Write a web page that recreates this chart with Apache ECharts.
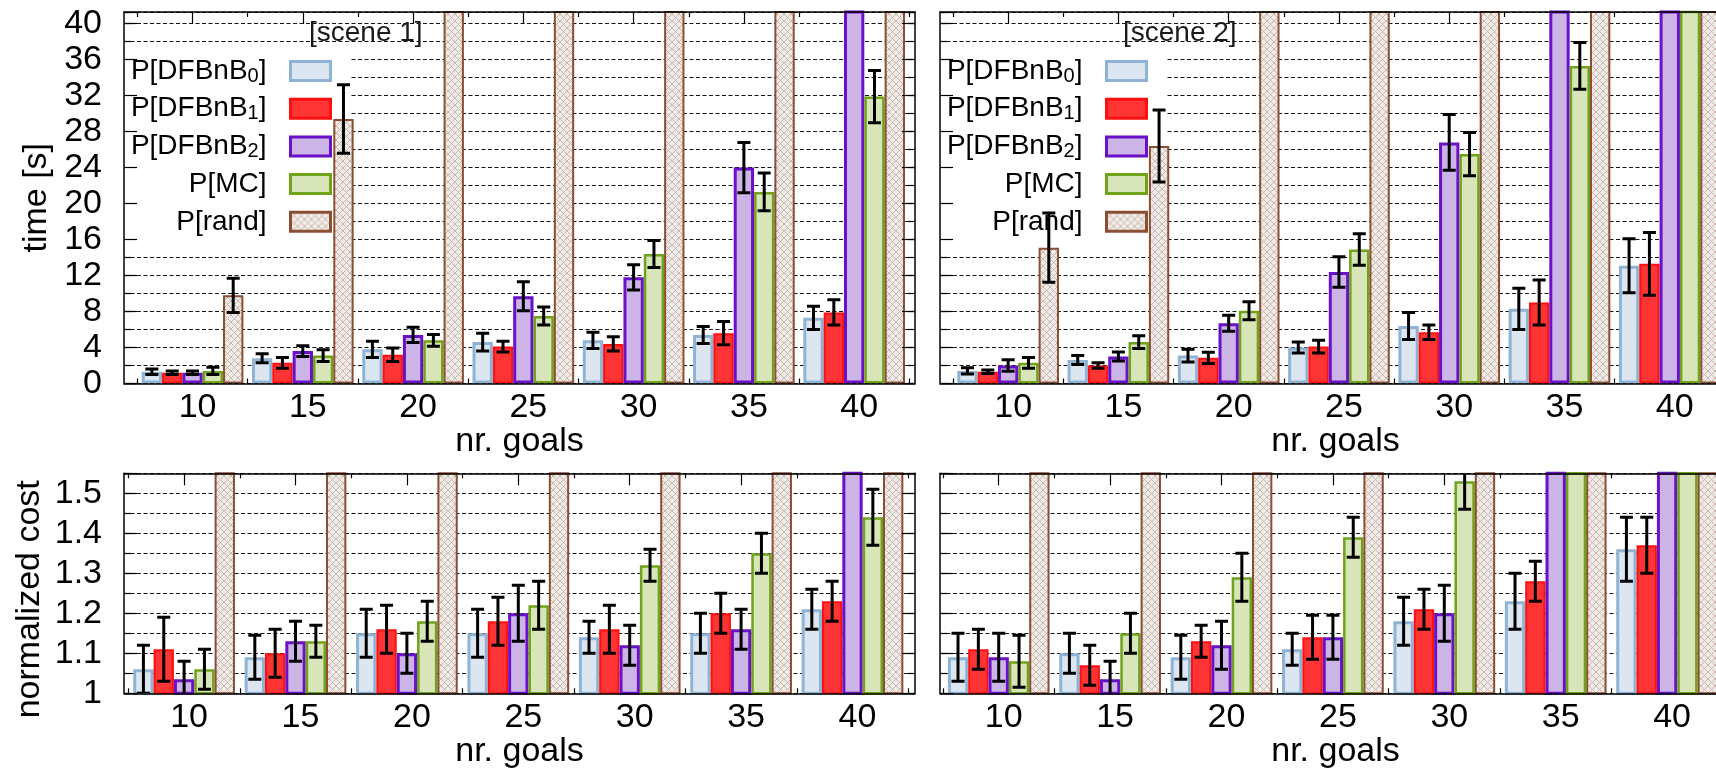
<!DOCTYPE html>
<html>
<head>
<meta charset="utf-8">
<script src="https://cdn.jsdelivr.net/npm/echarts@6.0.0/dist/echarts.min.js"></script>
<style>
  html, body { margin: 0; padding: 0; background: #fff; }
  #chart { width: 1716px; height: 775px; }
</style>
</head>
<body>
<div id="chart"></div>
<script>
// x categories and series names
const goals = ['10', '15', '20', '25', '30', '35', '40'];
const seriesNames = ['P[DFBnB0]', 'P[DFBnB1]', 'P[DFBnB2]', 'P[MC]', 'P[rand]'];

// rows: DFBnB0, DFBnB1, DFBnB2, MC, rand
// values above the axis max are bars that run off the top of the panel (no visible error bar)
const scene1Time = [
  [1.3, 2.8, 3.8, 4.6, 4.8, 5.4, 7.3],
  [1.2, 2.3, 3.2, 4.1, 4.4, 5.6, 7.9],
  [1.2, 3.6, 5.4, 9.7, 11.8, 24.0, 45],
  [1.4, 3.1, 4.8, 7.5, 14.4, 21.3, 31.9],
  [9.8, 29.4, 45, 45, 45, 45, 45]
];
const scene1TimeErr = [
  [0.3, 0.5, 0.9, 1.0, 0.9, 0.95, 1.3],
  [0.2, 0.6, 0.75, 0.6, 0.8, 1.3, 1.4],
  [0.2, 0.6, 0.85, 1.6, 1.4, 2.8, null],
  [0.4, 0.65, 0.65, 1.0, 1.5, 2.1, 2.9],
  [1.9, 3.8, null, null, null, null, null]
];
const scene2Time = [
  [1.4, 2.6, 3.1, 4.0, 6.4, 8.3, 13.1],
  [1.3, 2.0, 2.85, 4.1, 5.7, 9.0, 13.3],
  [2.0, 3.0, 6.7, 12.4, 26.8, 45, 45],
  [2.3, 4.6, 8.1, 14.9, 25.5, 35.3, 45],
  [15.1, 26.4, 45, 45, 45, 45, 45]
];
const scene2TimeErr = [
  [0.35, 0.5, 0.7, 0.6, 1.5, 2.3, 3.0],
  [0.2, 0.3, 0.63, 0.7, 0.8, 2.5, 3.5],
  [0.65, 0.5, 0.9, 1.7, 3.1, null, null],
  [0.6, 0.7, 1.0, 1.75, 2.4, 2.6, null],
  [3.85, 4.0, null, null, null, null, null]
];
const scene1Cost = [
  [1.06, 1.09, 1.15, 1.15, 1.14, 1.15, 1.21],
  [1.11, 1.10, 1.16, 1.18, 1.16, 1.20, 1.23],
  [1.035, 1.13, 1.10, 1.20, 1.12, 1.16, 1.6],
  [1.06, 1.13, 1.18, 1.22, 1.32, 1.35, 1.44],
  [1.6, 1.6, 1.6, 1.6, 1.6, 1.6, 1.6]
];
const scene1CostErr = [
  [0.06, 0.055, 0.06, 0.06, 0.04, 0.05, 0.05],
  [0.08, 0.06, 0.06, 0.06, 0.06, 0.05, 0.05],
  [0.045, 0.05, 0.05, 0.07, 0.05, 0.05, null],
  [0.05, 0.04, 0.05, 0.06, 0.04, 0.05, 0.07],
  [null, null, null, null, null, null, null]
];
const scene2Cost = [
  [1.09, 1.10, 1.09, 1.11, 1.18, 1.23, 1.36],
  [1.11, 1.07, 1.13, 1.14, 1.21, 1.28, 1.37],
  [1.09, 1.035, 1.12, 1.14, 1.20, 1.6, 1.6],
  [1.08, 1.15, 1.29, 1.39, 1.53, 1.6, 1.6],
  [1.6, 1.6, 1.6, 1.6, 1.6, 1.6, 1.6]
];
const scene2CostErr = [
  [0.06, 0.05, 0.055, 0.04, 0.06, 0.07, 0.08],
  [0.05, 0.05, 0.04, 0.055, 0.05, 0.05, 0.07],
  [0.06, 0.045, 0.06, 0.055, 0.07, null, null],
  [0.065, 0.05, 0.06, 0.05, 0.07, null, null],
  [null, null, null, null, null, null, null]
];

const font = "'Liberation Sans', Arial, sans-serif";

function hatch() {
  const c = document.createElement('canvas');
  c.width = 7; c.height = 7;
  const g = c.getContext('2d');
  g.fillStyle = '#f1ebe8';
  g.fillRect(0, 0, 7, 7);
  g.strokeStyle = '#c7b7af';
  g.lineWidth = 1;
  g.beginPath();
  g.moveTo(0, 0); g.lineTo(7, 7);
  g.moveTo(7, 0); g.lineTo(0, 7);
  g.stroke();
  return c;
}

const barStyles = [
  { color: '#dce6f0', borderColor: '#8fb3d5', borderWidth: 3 },
  { color: '#ff3535', borderColor: '#ff1010', borderWidth: 2 },
  { color: '#ccb4e6', borderColor: '#6a10c8', borderWidth: 3 },
  { color: '#d8e5b9', borderColor: '#70a21a', borderWidth: 2.5 },
  { color: { image: hatch(), repeat: 'repeat' }, borderColor: '#8a4e33', borderWidth: 2 }
];

const panels = [
  { values: scene1Time, errs: scene1TimeErr, left: 124, top: 12, height: 371.5, dataLeft: 137.4, pitch: 110.27, gap: 0.078,
    min: 0, max: 41.3, major: 4, minor: 2, yName: 'time [s]', nameGap: 70, namePad: [0, 0, 0, 0], labels: true },
  { values: scene2Time, errs: scene2TimeErr, left: 940, top: 12, height: 371.5, dataLeft: 953, pitch: 110.27, gap: 0.078,
    min: 0, max: 41.3, major: 4, minor: 2, yName: '', labels: false },
  { values: scene1Cost, errs: scene1CostErr, left: 124, top: 473.3, height: 220, dataLeft: 128.4, pitch: 111.4, gap: 0.087,
    min: 1, max: 1.55, major: 0.1, minor: 0.05, yName: 'normalized cost', nameGap: 77, namePad: [0, 32, 0, 0], labels: true },
  { values: scene2Cost, errs: scene2CostErr, left: 940, top: 473.3, height: 220, dataLeft: 943, pitch: 111.4, gap: 0.087,
    min: 1, max: 1.55, major: 0.1, minor: 0.05, yName: '', labels: false }
];

const frameW = 791;
const grid = [], xAxis = [], yAxis = [], series = [];
const black = '#000';

function majorLabel(p) {
  return function (v) {
    const k = v / p.major;
    if (Math.abs(k - Math.round(k)) > 1e-6) return '';
    return String(+v.toFixed(1));
  };
}

panels.forEach(function (p, i) {
  const fg = grid.length;
  grid.push({ left: p.left, top: p.top, width: frameW, height: p.height, outerBoundsMode: 'none', containLabel: false });
  const dg = grid.length;
  grid.push({ left: p.dataLeft, top: p.top, width: p.pitch * goals.length, height: p.height, outerBoundsMode: 'none', containLabel: false });

  // frame: bottom / top borders
  xAxis.push({
    type: 'value', gridIndex: fg, position: 'bottom', min: 0, max: 1, z: 5,
    axisLine: { show: true, onZero: false, lineStyle: { color: black, width: 1.5 } },
    axisTick: { show: false }, axisLabel: { show: false }, splitLine: { show: false },
    name: 'nr. goals', nameLocation: 'middle', nameGap: 41, nameMoveOverlap: false,
    nameTextStyle: { fontFamily: font, fontSize: 34, color: black }
  });
  xAxis.push({
    type: 'value', gridIndex: fg, position: 'top', min: 0, max: 1, z: 5,
    axisLine: { show: true, onZero: false, lineStyle: { color: black, width: 1.5 } },
    axisTick: { show: false }, axisLabel: { show: false }, splitLine: { show: false }
  });
  // data: category axes for bars, labels and ticks
  const dx = xAxis.length;
  xAxis.push({
    type: 'category', gridIndex: dg, position: 'bottom', data: goals,
    axisLine: { show: false, onZero: false },
    axisTick: { show: true, inside: true, length: 5, interval: 0, lineStyle: { color: black, width: 1.2 } },
    axisLabel: { show: true, interval: 0, margin: 7, fontFamily: font, fontSize: 34, color: black, padding: [0, 0, 0, 10] },
    splitLine: { show: false }
  });
  xAxis.push({
    type: 'category', gridIndex: dg, position: 'top', data: goals,
    axisLine: { show: false, onZero: false },
    axisTick: { show: true, inside: true, length: 5, interval: 0, lineStyle: { color: black, width: 1.2 } },
    axisLabel: { show: false }, splitLine: { show: false }
  });
  xAxis.push({
    type: 'category', gridIndex: dg, position: 'top', data: goals,
    axisLine: { show: false, onZero: false },
    axisTick: { show: true, inside: true, length: 12, interval: 0, alignWithLabel: true, lineStyle: { color: black, width: 1.2 } },
    axisLabel: { show: false }, splitLine: { show: false }
  });

  const tickLine = { color: black, width: 1.2 };
  yAxis.push({
    type: 'value', gridIndex: fg, position: 'left', min: p.min, max: p.max, interval: p.major, z: 5,
    axisLine: { show: true, onZero: false, lineStyle: { color: black, width: 1.5 } },
    axisTick: { show: true, inside: true, length: 13, lineStyle: tickLine },
    axisLabel: { show: p.labels, margin: 22, fontFamily: font, fontSize: 34, color: black, formatter: majorLabel(p) },
    splitLine: { show: false },
    name: p.yName, nameLocation: 'middle', nameGap: p.nameGap || 0, nameMoveOverlap: false,
    nameTextStyle: { fontFamily: font, fontSize: 34, color: black, padding: p.namePad || 0 }
  });
  yAxis.push({
    type: 'value', gridIndex: fg, position: 'left', min: p.min, max: p.max, interval: p.minor, z: 0,
    axisLine: { show: false, onZero: false },
    axisTick: { show: true, inside: true, length: 7, lineStyle: tickLine },
    axisLabel: { show: false },
    splitLine: { show: true, lineStyle: { color: '#111', width: 1, type: [4, 2.5] } }
  });
  yAxis.push({
    type: 'value', gridIndex: fg, position: 'right', min: p.min, max: p.max, interval: p.major, z: 5,
    axisLine: { show: true, onZero: false, lineStyle: { color: black, width: 1.5 } },
    axisTick: { show: true, inside: true, length: 13, lineStyle: tickLine },
    axisLabel: { show: false }, splitLine: { show: false }
  });
  yAxis.push({
    type: 'value', gridIndex: fg, position: 'right', min: p.min, max: p.max, interval: p.minor, z: 5,
    axisLine: { show: false, onZero: false },
    axisTick: { show: true, inside: true, length: 7, lineStyle: tickLine },
    axisLabel: { show: false }, splitLine: { show: false }
  });
  const dy = yAxis.length;
  yAxis.push({ type: 'value', gridIndex: dg, min: p.min, max: p.max, show: false });

  const gapPct = (p.gap * 100).toFixed(2) + '%';
  p.values.forEach(function (row, s) {
    series.push({
      type: 'bar', name: seriesNames[s], xAxisIndex: dx, yAxisIndex: dy,
      data: row, barGap: '0%', barCategoryGap: gapPct, z: 2, clip: true,
      itemStyle: barStyles[s], emphasis: { disabled: true }, silent: true
    });
  });

  const errData = [];
  p.errs.forEach(function (row, s) {
    row.forEach(function (e, c) {
      if (e != null) errData.push([c, s, p.values[s][c], e]);
    });
  });
  const gap = p.gap;
  series.push({
    type: 'custom', xAxisIndex: dx, yAxisIndex: dy, z: 3, clip: true, silent: true,
    encode: { x: 0, y: 2 },
    data: errData,
    renderItem: function (params, api) {
      const c = api.value(0), s = api.value(1), v = api.value(2), e = api.value(3);
      const band = api.size([1, 0])[0];
      const bw = band * (1 - gap) / 5;
      const mid = api.coord([c, v]);
      const x = mid[0] + (s - 2) * bw;
      const hi = api.coord([c, v + e])[1];
      const lo = api.coord([c, v - e])[1];
      const cap = 6.5;
      const st = { stroke: '#000', lineWidth: 3 };
      return {
        type: 'group',
        children: [
          { type: 'line', shape: { x1: x, y1: hi, x2: x, y2: lo }, style: st },
          { type: 'line', shape: { x1: x - cap, y1: hi, x2: x + cap, y2: hi }, style: st },
          { type: 'line', shape: { x1: x - cap, y1: lo, x2: x + cap, y2: lo }, style: st }
        ]
      };
    }
  });
});

function legendFor(right) {
  return {
    show: true, orient: 'vertical', align: 'right', right: right, top: 48,
    itemWidth: 40, itemHeight: 19, itemGap: 7.7, icon: 'rect',
    padding: [8, 18, 13, 9], backgroundColor: '#fff', z: 1,
    selectedMode: false, data: seriesNames,
    itemStyle: { borderWidth: 3 },
    textStyle: {
      fontFamily: font, fontSize: 28, color: black, lineHeight: 30, padding: [0, 19, 0, 0],
      rich: { s: { fontFamily: font, fontSize: 20, color: black, lineHeight: 14, verticalAlign: 'bottom' } }
    },
    formatter: function (n) { return n.replace(/B(\d)\]/, 'B{s|$1}]'); }
  };
}

const titleStyle = { fontFamily: font, fontSize: 28, fontWeight: 'normal', color: '#1a1a1a' };

const option = {
  animation: false,
  backgroundColor: '#fff',
  title: [
    { text: '[scene 1]', left: 304, top: 14, padding: 5, textStyle: titleStyle },
    { text: '[scene 2]', left: 1118, top: 14, padding: 5, textStyle: titleStyle }
  ],
  legend: [legendFor(1716 - 350), legendFor(1716 - 1166)],
  grid: grid,
  xAxis: xAxis,
  yAxis: yAxis,
  series: series
};

const chart = echarts.init(document.getElementById('chart'));
chart.setOption(option);
</script>
</body>
</html>
